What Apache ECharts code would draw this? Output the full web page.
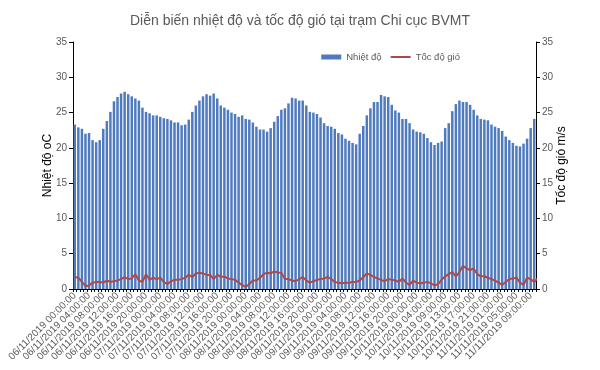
<!DOCTYPE html>
<html>
<head>
<meta charset="utf-8">
<script src="https://cdn.jsdelivr.net/npm/echarts@6/dist/echarts.min.js"></script>
<style>html,body{margin:0;padding:0;background:#fff;}#c{width:600px;height:370px;}</style>
</head>
<body>
<div id="c"></div>
<script>
// Category labels (hourly, one hour missing on 10/11)
const days = ['06','07','08','09','10','11'];
const categories = [];
for (const d of days) {
  for (let h = 0; h < 24; h++) {
    if (d === '10' && h === 7) continue;
    if (d === '11' && h > 10) break;
    categories.push(d + '/11/2019 ' + String(h).padStart(2, '0') + ':00:00');
  }
}

const temperature = [
  23.3,22.9,22.7,22.0,22.1,21.1,20.8,21.1,22.7,23.8,25.1,26.6,27.2,27.7,27.95,27.6,
  27.3,27.0,26.7,25.7,25.1,24.9,24.6,24.6,24.4,24.2,24.1,23.9,23.6,23.6,23.2,23.3,
  24.0,25.1,26.0,26.7,27.3,27.6,27.4,27.7,27.0,26.0,25.7,25.4,25.0,24.8,24.4,24.6,
  24.1,24.0,23.6,23.0,22.6,22.6,22.3,22.8,23.7,24.5,25.4,25.6,26.3,27.1,27.0,26.7,
  26.7,26.0,25.1,25.0,24.8,24.3,23.5,23.1,23.0,22.7,22.1,21.9,21.3,21.0,20.7,20.5,
  22.0,23.1,24.6,25.6,26.5,26.5,27.5,27.3,27.2,26.1,25.3,25.0,24.1,24.1,23.5,22.6,
  22.3,22.2,22.0,21.4,20.8,20.4,20.7,20.9,22.8,23.5,25.2,26.2,26.7,26.5,26.5,26.1,
  25.4,24.6,24.1,24.0,23.9,23.3,23.0,22.8,22.4,21.6,21.1,20.7,20.3,20.2,20.6,21.3,
  22.8,24.1,25.2
];

const windSpeed = [
  1.7,1.6,1.0,0.4,0.5,0.9,1.0,1.0,0.9,1.2,1.0,1.1,1.2,1.4,1.7,1.4,
  1.5,2.1,1.2,1.0,2.1,1.3,1.6,1.4,1.6,1.0,0.7,1.1,1.3,1.3,1.4,1.6,
  2.0,1.7,2.2,2.3,2.2,2.0,2.0,1.4,2.0,1.75,1.75,1.5,1.4,1.3,0.9,0.55,
  0.3,0.7,1.2,1.2,1.6,2.1,2.3,2.2,2.5,2.3,2.3,1.4,1.4,1.2,1.1,1.4,
  1.7,1.2,0.9,1.1,1.3,1.4,1.5,1.7,1.4,1.0,0.9,0.8,0.9,0.9,1.0,1.0,
  1.2,1.7,2.2,2.0,1.7,1.5,1.3,1.1,1.4,1.3,1.2,1.0,1.5,0.9,0.6,1.2,
  0.9,0.8,0.9,1.0,0.8,0.5,0.7,1.3,1.8,2.1,2.4,1.8,2.4,3.3,2.9,2.7,
  2.9,2.1,1.8,1.8,1.6,1.4,1.2,0.9,0.6,1.0,1.4,1.5,1.6,0.9,0.6,1.6,
  1.4,1.0,1.5,2.0
];

const yTicks = [0, 5, 10, 15, 20, 25, 30, 35];

const chart = echarts.init(document.getElementById('c'), null, {renderer: 'canvas'});
const FONT = 'Liberation Sans';
const axisTextColor = '#595959';
chart.setOption({
  animation: false,
  backgroundColor: '#ffffff',
  textStyle: {fontFamily: FONT},
  title: {
    text: 'Diễn biến nhiệt độ và tốc độ gió tại trạm Chi cục BVMT',
    left: 'center',
    top: 9,
    textStyle: {fontFamily: FONT, fontSize: 14, fontWeight: 'normal', color: '#595959'}
  },
  legend: {
    right: 135,
    top: 47,
    itemWidth: 20,
    itemHeight: 5,
    itemGap: 9,
    textStyle: {fontFamily: FONT, fontSize: 9.5, color: '#595959'},
    data: [
      {name: 'Nhiệt độ', icon: 'rect'},
      {name: 'Tốc độ gió', icon: 'path://M0,0H20V2H0Z'}
    ]
  },
  grid: {left: 73, right: 64, top: 42, bottom: 81, containLabel: false},
  xAxis: {
    type: 'category',
    data: categories,
    boundaryGap: true,
    axisLine: {show: true, lineStyle: {color: '#000000', width: 1}},
    axisTick: {show: true, interval: 0, length: 3, lineStyle: {color: '#000000'}},
    axisLabel: {
      interval: 3,
      rotate: 45,
      fontSize: 10,
      color: axisTextColor,
      fontFamily: FONT,
      margin: 5
    },
    splitLine: {show: false}
  },
  yAxis: [
    {
      type: 'value',
      min: yTicks[0],
      max: yTicks[yTicks.length - 1],
      interval: 5,
      name: 'Nhiệt độ oC',
      nameLocation: 'middle',
      nameGap: 19,
      nameMoveOverlap: false,
      nameRotate: 90,
      nameTextStyle: {fontFamily: FONT, fontSize: 12, color: '#000000'},
      axisLine: {show: true, lineStyle: {color: '#000000'}},
      axisTick: {show: true, length: 4, lineStyle: {color: '#000000'}},
      axisLabel: {fontSize: 10, color: axisTextColor, fontFamily: FONT, margin: 6},
      splitLine: {show: false}
    },
    {
      type: 'value',
      min: yTicks[0],
      max: yTicks[yTicks.length - 1],
      interval: 5,
      position: 'right',
      name: 'Tốc độ gió m/s',
      nameLocation: 'middle',
      nameGap: 20,
      nameMoveOverlap: false,
      nameRotate: 90,
      nameTextStyle: {fontFamily: FONT, fontSize: 12, color: '#000000'},
      axisLine: {show: true, lineStyle: {color: '#000000'}},
      axisTick: {show: true, length: 4, lineStyle: {color: '#000000'}},
      axisLabel: {fontSize: 10, color: axisTextColor, fontFamily: FONT, margin: 6},
      splitLine: {show: false}
    }
  ],
  series: [
    {
      name: 'Nhiệt độ',
      type: 'bar',
      data: temperature,
      yAxisIndex: 0,
      barCategoryGap: '30%',
      itemStyle: {color: '#4F7BBE'}
    },
    {
      name: 'Tốc độ gió',
      type: 'line',
      data: windSpeed,
      yAxisIndex: 1,
      symbol: 'none',
      lineStyle: {color: '#B0474A', width: 2},
      itemStyle: {color: '#B0474A'}
    }
  ]
});
</script>
</body>
</html>
